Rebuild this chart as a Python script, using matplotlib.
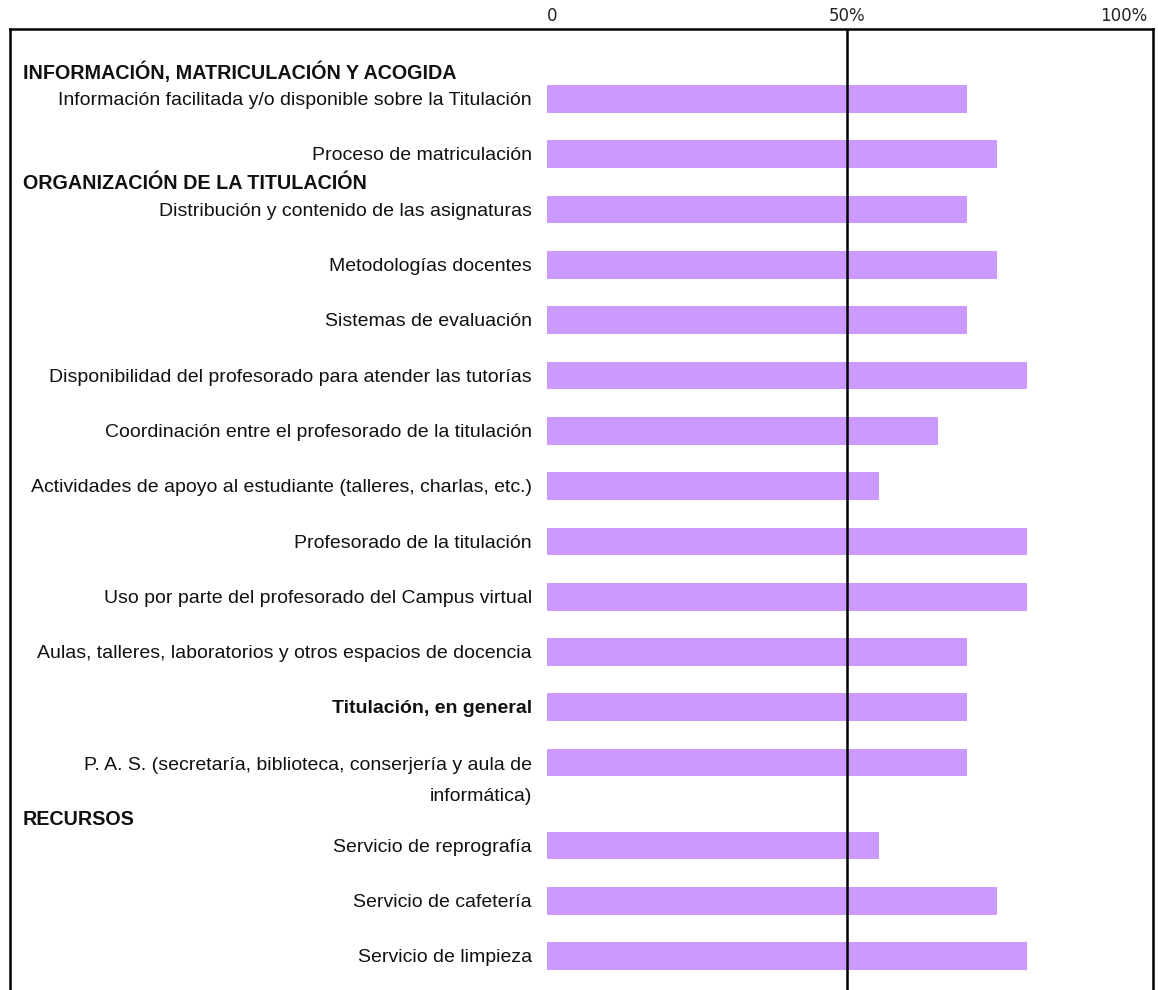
import matplotlib

matplotlib.use("Agg")
import matplotlib.pyplot as plt

# etiquetas de cada barra (de arriba a abajo)
labels = [
    "Información facilitada y/o disponible sobre la Titulación",
    "Proceso de matriculación",
    "Distribución y contenido de las asignaturas",
    "Metodologías docentes",
    "Sistemas de evaluación",
    "Disponibilidad del profesorado para atender las tutorías",
    "Coordinación entre el profesorado de la titulación",
    "Actividades de apoyo al estudiante (talleres, charlas, etc.)",
    "Profesorado de la titulación",
    "Uso por parte del profesorado del Campus virtual",
    "Aulas, talleres, laboratorios y otros espacios de docencia",
    "Titulación, en general",
    "P. A. S. (secretaría, biblioteca, conserjería y aula de\ninformática)",
    "Servicio de reprografía",
    "Servicio de cafetería",
    "Servicio de limpieza",
]
values = [70, 75, 70, 75, 70, 80, 65.2, 55.3, 80, 80, 70, 70, 70, 55.3, 75, 80]
# fila de cada barra (hay un hueco antes de RECURSOS)
positions = [0, 1, 2, 3, 4, 5, 6, 7, 8, 9, 10, 11, 12, 13.5, 14.5, 15.5]
sections = ["INFORMACIÓN, MATRICULACIÓN Y ACOGIDA", "ORGANIZACIÓN DE LA TITULACIÓN", "RECURSOS"]
section_pos = [-0.5, 1.5, 13.0]
tick_vals = [0, 50, 100]
tick_labels = ["0", "50%", "100%"]

plt.rcParams["font.family"] = ["Liberation Sans", "DejaVu Sans"]

fig = plt.figure(figsize=(11.58, 9.90), dpi=100)
W, H = 1158, 990
# el marco del gráfico = caja de los ejes (el borde inferior queda fuera)
ax = fig.add_axes([10 / W, -20 / H, 1143 / W, (1010 - 29) / H])

px = 6.0     # pixeles por punto porcentual
row = 55.3   # pixeles por fila
ax.set_xlim((10 - 547) / px, (1153 - 547) / px)
ax.set_ylim((1010 - 99) / row, (29 - 99) / row)

ax.barh(positions, values, height=0.5, color="#CC99FF", zorder=2)
ax.axvline(50, color="black", linewidth=1.8, zorder=3)

for s in ax.spines.values():
    s.set_linewidth(1.8)

ax.xaxis.tick_top()
ax.set_xticks(tick_vals)
ax.set_xticklabels(tick_labels, fontsize=12, color="#222222", family="DejaVu Sans")
for lab, ha in zip(ax.get_xticklabels(), ["left", "center", "right"]):
    lab.set_horizontalalignment(ha)
ax.tick_params(axis="x", length=0, pad=3)
ax.set_yticks([])

for lab, p in zip(labels, positions):
    bold = lab == "Titulación, en general"
    y = p + 0.33 if "\n" in lab else p + 0.03
    ax.text(-2.5, y, lab, ha="right", va="center", fontsize=14,
            fontweight="bold" if bold else "normal", multialignment="right",
            linespacing=2.1, color="#111111")

for sec, p in zip(sections, section_pos):
    ax.text((23 - 547) / px, p + 0.02, sec, ha="left", va="center",
            fontsize=14.2, fontweight="bold", color="#111111")

fig.savefig("out.png", dpi=100)
